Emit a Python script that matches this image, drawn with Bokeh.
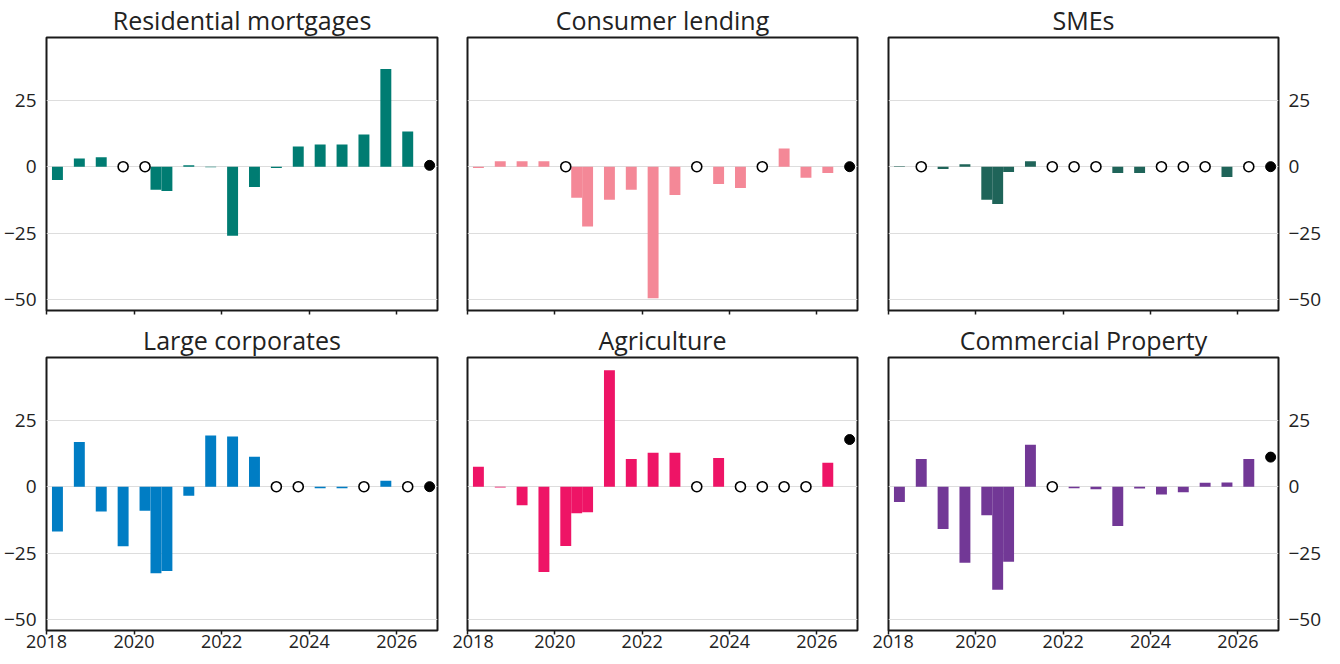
from bokeh.plotting import figure
from bokeh.layouts import column, row
from bokeh.models import FixedTicker, Range1d, Grid, ColumnDataSource
from bokeh.embed import file_html
from bokeh.resources import INLINE

dates = [2018.25, 2018.75, 2019.25, 2019.75, 2020.25, 2020.5, 2020.75, 2021.25, 2021.75,
         2022.25, 2022.75, 2023.25, 2023.75, 2024.25, 2024.75, 2025.25, 2025.75, 2026.25]
latest_date = 2026.75

titles = ["Residential mortgages", "Consumer lending", "SMEs",
          "Large corporates", "Agriculture", "Commercial Property"]
colors = ["#007C72", "#F48897", "#1F6459", "#007DC4", "#EE1466", "#723896"]

mortgages = [-5.0, 3.1, 3.5, 0, 0, -8.7, -9.1, 0.5, -0.2, -25.9, -7.6, -0.5, 7.6, 8.3, 8.3, 12.1, 36.7, 13.2]
consumer = [-0.5, 2.0, 2.0, 2.0, 0, -11.7, -22.5, -12.4, -8.7, -49.4, -10.6, 0, -6.5, -8.0, 0, 6.8, -4.2, -2.4]
smes = [0.2, 0, -0.9, 0.9, -12.4, -14.0, -2.0, 2.0, 0, 0, 0, -2.4, -2.4, 0, 0, 0, -3.9, 0]
large_corp = [-16.8, 16.8, -9.3, -22.4, -9.0, -32.5, -31.7, -3.4, 19.2, 18.8, 11.2, 0, 0, -0.6, -0.6, 0, 2.2, 0]
agriculture = [7.5, -0.3, -7.0, -32.0, -22.3, -10.0, -9.6, 43.7, 10.4, 12.7, 12.7, 0, 10.8, 0, 0, 0, 0, 9.0]
commercial = [-5.8, 10.4, -15.9, -28.6, -10.7, -38.7, -28.2, 15.7, 0, -0.6, -1.0, -14.8, -0.7, -2.9, -2.1, 1.5, 1.6, 10.4]
latest = [0.5, 0.0, 0.0, 0.0, 17.7, 11.1]

series = [mortgages, consumer, smes, large_corp, agriculture, commercial]

y_ticks = [-50, -25, 0, 25]
x_ticks = [2018, 2020, 2022, 2024, 2026]
FONT = "Open Sans"
bar_width = 0.25
FRAME_H = 273

def make_panel(i):
    col = i % 3
    r = i // 3
    if col == 0:
        bl, br = 43, 15
    elif col == 1:
        bl, br = 15, 15
    else:
        bl, br = 16, 46
    bt = 34 if r == 0 else 33
    bb = 10 if r == 0 else 25
    p = figure(frame_width=391 if col == 0 else 390, frame_height=FRAME_H,
               x_range=Range1d(2018, 2026.93), y_range=Range1d(-54, 48.5),
               output_backend="svg", toolbar_location=None,
               x_axis_location="below",
               y_axis_location=("left" if col == 0 else ("right" if col == 2 else None)),
               min_border_left=bl, min_border_right=br,
               min_border_top=bt, min_border_bottom=bb)
    p.title.text = titles[i]
    p.title.align = "center"
    p.title.text_font = FONT
    p.title.text_font_size = "25px"
    p.title.text_font_style = "normal"
    p.title.text_color = "#222222"
    p.title.standoff = 1
    p.outline_line_color = "#1a1a1a"
    p.outline_line_width = 2
    p.outline_line_alpha = 1
    p.background_fill_color = "white"
    p.border_fill_color = "white"

    p.xgrid.visible = False
    for g in p.ygrid:
        g.visible = False
    grid = Grid(dimension=1, ticker=FixedTicker(ticks=y_ticks),
                grid_line_color="#dddddd", grid_line_width=1.2)
    p.add_layout(grid)

    xa = p.xaxis[0]
    xa.ticker = FixedTicker(ticks=x_ticks)
    xa.axis_line_color = None
    xa.major_tick_line_color = "#1a1a1a"
    xa.major_tick_line_width = 1.5
    xa.major_tick_out = 4
    xa.major_tick_in = 0
    xa.minor_tick_line_color = None
    xa.major_label_text_font = FONT
    xa.major_label_text_color = "#222222"
    xa.major_label_standoff = 0
    xa.major_label_text_font_size = "18px"
    if r == 0:
        xa.major_label_overrides = {t: "" for t in x_ticks}

    if col != 1:
        ya = p.yaxis[0]
        ya.ticker = FixedTicker(ticks=y_ticks)
        ya.axis_line_color = None
        ya.major_tick_line_color = None
        ya.minor_tick_line_color = None
        ya.major_label_text_font = FONT
        ya.major_label_text_font_size = "19px"
        ya.major_label_text_color = "#222222"
        ya.major_label_standoff = 4
        ya.major_label_overrides = {-50: "\u221250", -25: "\u221225", 0: "0", 25: "25"}

    vals = series[i]
    nz_x = [d for d, v in zip(dates, vals) if v != 0]
    nz_v = [v for v in vals if v != 0]
    z_x = [d for d, v in zip(dates, vals) if v == 0]
    z_v = [0.0 for v in vals if v == 0]
    src = ColumnDataSource(dict(x=nz_x, top=nz_v))
    p.vbar(x="x", top="top", bottom=0, width=bar_width, source=src,
           fill_color=colors[i], line_color=None)
    p.scatter(x=z_x, y=z_v, size=10, marker="circle", fill_color="white",
              line_color="black", line_width=1.6)
    p.scatter(x=[latest_date], y=[latest[i]], size=10, marker="circle",
              fill_color="black", line_color="black")
    return p

panels = [make_panel(i) for i in range(6)]
layout = column(row(*panels[:3]), row(*panels[3:]))

open("out.html", "w").write(file_html(layout, INLINE))
